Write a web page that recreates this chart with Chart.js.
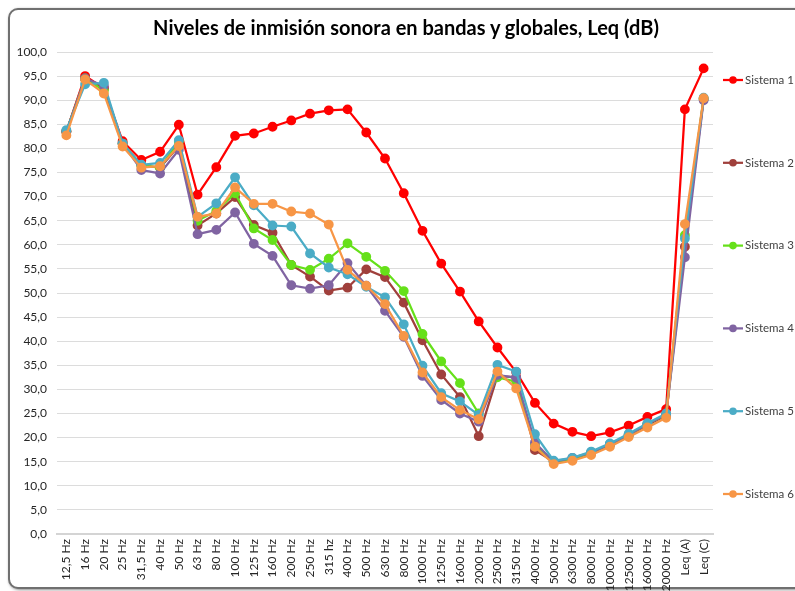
<!DOCTYPE html>
<html>
<head>
<meta charset="utf-8">
<script src="https://cdn.jsdelivr.net/npm/chart.js@4/dist/chart.umd.min.js"></script>
<style>
  html, body { margin: 0; padding: 0; background: #ffffff; }
  #wrap { position: absolute; left: 0; top: 0; width: 795px; height: 591px; overflow: hidden; background: #fff; }
  #frame { position: absolute; left: 8px; top: 8px; width: 820px; height: 577px; border: 2px solid #707070; border-radius: 10px; box-shadow: 1px 1px 3px rgba(0,0,0,0.45); background: #fff; }
  #cv { position: absolute; left: 0; top: 0; }
  #title { position: absolute; left: 0; width: 812px; top: 14px; text-align: center; font-family: Lato, 'Open Sans', sans-serif; font-weight: bold; font-size: 20px; color: #000; line-height: 26px; }
</style>
</head>
<body>
<div id="wrap">
  <div id="frame"></div>
  <canvas id="cv" width="795" height="591"></canvas>
  <div id="title">Niveles de inmisión sonora en bandas y globales, Leq (dB)</div>
</div>
<script>
const categories = ["12,5 Hz","16 Hz","20 Hz","25 Hz","31,5 Hz","40 Hz","50 Hz","63 Hz","80 Hz","100 Hz","125 Hz","160 Hz","200 Hz","250 Hz","315 hz","400 Hz","500 Hz","630 Hz","800 Hz","1000 Hz","1250 Hz","1600 Hz","2000 Hz","2500 Hz","3150 Hz","4000 Hz","5000 Hz","6300 Hz","8000 Hz","10000 Hz","12500 Hz","16000 Hz","20000 Hz","Leq (A)","Leq (C)"];

const sistema1 = [83.5,95.0,92.5,81.5,77.6,79.3,84.9,70.4,76.1,82.6,83.1,84.5,85.8,87.2,87.9,88.1,83.3,77.9,70.7,62.9,56.1,50.3,44.1,38.7,33.6,27.2,22.9,21.2,20.3,21.1,22.5,24.3,25.9,88.1,96.6];
const sistema2 = [83.5,94.5,92.5,81.0,76.5,76.0,80.5,64.0,66.5,69.9,64.1,62.5,55.8,53.4,50.5,51.1,54.9,53.3,48.0,40.2,33.1,28.4,20.3,32.8,32.5,17.4,15.0,15.6,16.8,18.5,20.5,22.6,24.6,59.6,90.3];
const sistema3 = [83.5,94.5,92.0,81.0,76.5,76.0,81.5,65.0,67.0,70.7,63.4,61.0,55.8,54.8,57.1,60.3,57.5,54.6,50.4,41.5,35.8,31.3,25.0,32.5,31.6,18.5,15.0,15.6,16.9,18.6,20.6,22.8,24.8,62.0,90.3];
const sistema4 = [83.5,94.5,93.0,81.0,75.5,74.8,79.7,62.2,63.1,66.7,60.2,57.7,51.6,50.9,51.6,56.2,51.5,46.3,40.9,32.8,27.8,25.0,23.3,33.0,32.4,19.0,15.0,15.8,16.9,18.6,20.6,22.8,24.8,57.4,90.0];
const sistema5 = [83.8,93.3,93.6,81.0,76.6,77.0,81.7,65.8,68.6,74.0,68.2,64.0,63.8,58.2,55.3,53.9,51.3,49.1,43.5,34.9,29.2,27.5,24.7,35.1,33.7,20.7,15.2,15.8,17.1,18.8,20.8,23.0,25.0,61.3,90.5];
const sistema6 = [82.7,94.3,91.4,80.4,76.0,76.3,80.5,65.8,66.5,71.9,68.5,68.5,66.9,66.5,64.2,54.8,51.5,47.7,41.1,33.5,28.4,25.7,23.8,33.7,30.2,18.1,14.5,15.2,16.4,18.1,20.1,22.1,24.1,64.3,90.4];

const seriesNames = ["Sistema 1","Sistema 2","Sistema 3","Sistema 4","Sistema 5","Sistema 6"];
const seriesColors = ["#FF0000","#A0403C","#66E01A","#8064A2","#4BACC6","#F79646"];
const seriesData = [sistema1, sistema2, sistema3, sistema4, sistema5, sistema6];

const FONT = "Lato, 'Open Sans', 'DejaVu Sans', sans-serif";

const legendPlugin = {
  id: 'sideLegend',
  afterDraw(chart) {
    const ctx = chart.ctx;
    ctx.save();
    chart.data.datasets.forEach((ds, i) => {
      const y = 80 + i * 82.8;
      ctx.strokeStyle = ds.borderColor;
      ctx.lineWidth = 2.25;
      ctx.beginPath();
      ctx.moveTo(723, y);
      ctx.lineTo(743, y);
      ctx.stroke();
      ctx.fillStyle = ds.borderColor;
      ctx.beginPath();
      ctx.arc(733, y, 3.8, 0, Math.PI * 2);
      ctx.fill();
      ctx.fillStyle = '#404040';
      ctx.font = "11.5px " + FONT;
      ctx.textBaseline = 'middle';
      ctx.textAlign = 'left';
      ctx.fillText(ds.label, 745, y);
    });
    ctx.restore();
  }
};

new Chart(document.getElementById('cv'), {
  type: 'line',
  data: {
    labels: categories,
    datasets: seriesData.map((d, i) => ({
      label: seriesNames[i],
      data: d,
      order: seriesData.length - i,
      borderColor: seriesColors[i],
      backgroundColor: seriesColors[i],
      pointBackgroundColor: seriesColors[i],
      pointBorderColor: seriesColors[i],
      borderWidth: 2.25,
      pointRadius: 3.8,
      pointHoverRadius: 3.8,
      tension: 0,
      fill: false
    }))
  },
  options: {
    responsive: false,
    animation: false,
    devicePixelRatio: 1,
    layout: { padding: { left: 10, right: 82, top: 52, bottom: 0 } },
    plugins: {
      legend: { display: false },
      tooltip: { enabled: false },
      title: { display: false }
    },
    scales: {
      x: {
        offset: true,
        grid: { display: false, drawTicks: false, offset: true },
        border: { display: true, color: '#D4D4D4', width: 2 },
        ticks: {
          color: '#262626',
          font: { family: FONT, size: 12 },
          minRotation: 90, maxRotation: 90,
          autoSkip: false,
          padding: 5
        },
        afterFit(scale) { scale.height = 57; }
      },
      y: {
        min: 0, max: 100,
        grid: { color: '#DCDCDC', lineWidth: 1, drawTicks: false },
        border: { display: false },
        ticks: {
          stepSize: 5,
          color: '#262626',
          font: { family: FONT, size: 12 },
          padding: 10,
          callback: v => v.toFixed(1).replace('.', ',')
        },
        afterFit(scale) { scale.width = 47; }
      }
    }
  },
  plugins: [legendPlugin]
});
</script>
</body>
</html>
